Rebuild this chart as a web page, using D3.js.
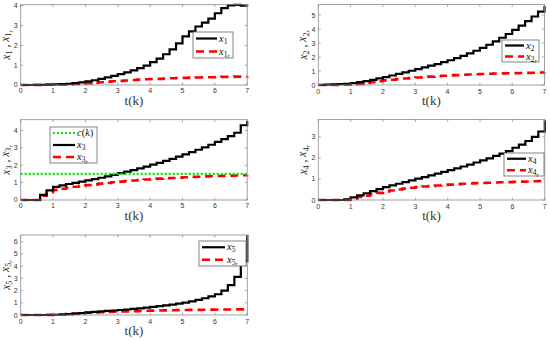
<!DOCTYPE html>
<html><head><meta charset="utf-8">
<script src="https://cdn.jsdelivr.net/npm/d3@7"></script>
<style>body{margin:0;background:#fff}svg{display:block}</style>
</head><body>
<svg id="c" width="550" height="341"></svg>
<script>
const t = d3.range(36).map(i => +(i * 0.2).toFixed(1));
const xTicks = [0,1,2,3,4,5,6,7];

const x1  = [0,0,0.01,0.01,0.02,0.03,0.04,0.06,0.09,0.13,0.18,0.24,0.31,0.38,0.46,0.55,0.64,0.74,0.85,0.98,1.15,1.33,1.55,1.8,2.1,2.45,2.7,2.95,3.15,3.35,3.62,3.88,4.02,4.04,4.0,3.97];
const x1r = [0,0,0,0,0.01,0.01,0.02,0.03,0.05,0.07,0.09,0.12,0.14,0.17,0.19,0.21,0.23,0.25,0.27,0.29,0.3,0.31,0.33,0.34,0.35,0.36,0.37,0.38,0.39,0.39,0.4,0.41,0.41,0.42,0.42,0.43];
const x2  = [0,0.02,0.04,0.06,0.09,0.14,0.2,0.28,0.37,0.47,0.57,0.68,0.79,0.9,1.02,1.14,1.26,1.38,1.5,1.63,1.77,1.92,2.08,2.26,2.45,2.66,2.88,3.12,3.38,3.65,3.95,4.25,4.57,4.9,5.25,5.65];
const x2r = [0,0,0,0.01,0.02,0.04,0.08,0.14,0.2,0.27,0.33,0.38,0.42,0.46,0.5,0.54,0.57,0.6,0.63,0.66,0.69,0.71,0.73,0.75,0.77,0.79,0.8,0.82,0.83,0.84,0.85,0.86,0.87,0.88,0.89,0.9];
const x3  = [0,0,0,0.3,0.55,0.75,0.84,0.92,0.99,1.06,1.13,1.2,1.28,1.36,1.45,1.55,1.63,1.72,1.82,1.92,2.03,2.14,2.25,2.37,2.49,2.62,2.75,2.89,3.03,3.18,3.34,3.5,3.68,3.87,4.3,4.55];
const x3r = [0,0,0,0.25,0.45,0.58,0.65,0.71,0.76,0.81,0.86,0.9,0.94,0.98,1.02,1.06,1.09,1.12,1.15,1.18,1.21,1.23,1.25,1.27,1.29,1.31,1.33,1.34,1.36,1.37,1.38,1.39,1.4,1.41,1.42,1.43];
const c3  = t.map(() => 1.5);
const x4  = [0,0,0,0,0.03,0.12,0.22,0.32,0.42,0.52,0.61,0.69,0.77,0.85,0.93,1.01,1.09,1.17,1.25,1.33,1.42,1.5,1.59,1.68,1.78,1.88,1.98,2.09,2.2,2.32,2.48,2.63,2.8,3.0,3.25,3.78];
const x4r = [0,0,0,0,0,0.06,0.14,0.21,0.28,0.34,0.4,0.45,0.5,0.54,0.58,0.61,0.64,0.66,0.69,0.71,0.73,0.75,0.77,0.78,0.8,0.81,0.82,0.83,0.84,0.85,0.86,0.87,0.88,0.89,0.9,0.91];
const x5  = [0,0,0,0,0.01,0.02,0.04,0.07,0.11,0.16,0.21,0.25,0.29,0.33,0.37,0.41,0.45,0.5,0.55,0.6,0.66,0.72,0.78,0.85,0.93,1.02,1.12,1.24,1.37,1.52,1.7,2.0,2.45,3.12,4.4,6.55];
const x5r = [0,0,0,0,0,0.02,0.04,0.07,0.11,0.15,0.19,0.21,0.23,0.25,0.27,0.29,0.3,0.32,0.33,0.35,0.36,0.37,0.38,0.39,0.4,0.41,0.42,0.42,0.43,0.44,0.44,0.45,0.45,0.46,0.46,0.47];

const yTicks1 = [0,1,2,3,4];
const yTicks2 = [0,1,2,3,4,5];
const yTicks3 = [0,1,2,3,4];
const yTicks4 = [0,1,2,3];
const yTicks5 = [0,1,2,3,4,5,6];

const svg = d3.select("#c");
const mathFont = "'Liberation Serif', 'DejaVu Serif', serif";

const STY = {
  black: {stroke:"#000", width:2.2, dash:null},
  red:   {stroke:"#ff0000", width:2.6, dash:"8,5"},
  green: {stroke:"#00e600", width:2.2, dash:"2,2"}
};

function mathLabel(sel, idx, r) {
  sel.append("tspan").attr("font-style","italic").text("x");
  sel.append("tspan").attr("font-size","0.72em").attr("dy", "0.28em").text(idx);
  if (r) {
    sel.append("tspan").attr("font-style","italic").attr("font-size","0.55em").attr("dy","0.25em").text("r");
  }
}

function panel(p) {
  const g = svg.append("g").attr("transform", `translate(${p.left},${p.top})`);
  const W = p.w, H = p.h;
  const xs = d3.scaleLinear().domain([0,7]).range([0,W]);
  const ys = d3.scaleLinear().domain([0,p.ymax]).range([H,0]);

  g.append("rect").attr("width",W).attr("height",H).attr("fill","#fff");

  const clip = "clip" + p.id;
  g.append("clipPath").attr("id",clip).append("rect").attr("x",-2).attr("y",-2).attr("width",W+4).attr("height",H+4);

  const line = d3.line().x((d,i)=>xs(t[i])).y(d=>ys(d)).curve(d3.curveStepAfter);
  const lineC = d3.line().x((d,i)=>xs(t[i])).y(d=>ys(d));
  const plotG = g.append("g").attr("clip-path",`url(#${clip})`);
  p.series.forEach(s => {
    const st = STY[s.style];
    plotG.append("path").datum(s.data)
      .attr("d", s.style==="green" ? lineC : line)
      .attr("fill","none").attr("stroke",st.stroke).attr("stroke-width",st.width)
      .attr("stroke-dasharray",st.dash).attr("stroke-linejoin","miter");
  });

  const axCol = "#8a8a8a";
  const tl = 2.5;
  const ax = g.append("g");
  ax.append("rect").attr("width",W).attr("height",H).attr("fill","none").attr("stroke",axCol).attr("stroke-width",0.8);
  xTicks.forEach(v => {
    ax.append("line").attr("x1",xs(v)).attr("x2",xs(v)).attr("y1",H).attr("y2",H-tl).attr("stroke",axCol).attr("stroke-width",0.7);
    ax.append("line").attr("x1",xs(v)).attr("x2",xs(v)).attr("y1",0).attr("y2",tl).attr("stroke",axCol).attr("stroke-width",0.7);
    ax.append("text").attr("x",xs(v)).attr("y",H+8.5).attr("text-anchor","middle")
      .attr("font-family","'Liberation Sans', Arial, sans-serif").attr("font-size",7).attr("fill","#333").text(v);
  });
  p.yTicks.forEach(v => {
    ax.append("line").attr("x1",0).attr("x2",tl).attr("y1",ys(v)).attr("y2",ys(v)).attr("stroke",axCol).attr("stroke-width",0.7);
    ax.append("line").attr("x1",W).attr("x2",W-tl).attr("y1",ys(v)).attr("y2",ys(v)).attr("stroke",axCol).attr("stroke-width",0.7);
    ax.append("text").attr("x",-3).attr("y",ys(v)+2.5).attr("text-anchor","end")
      .attr("font-family","'Liberation Sans', Arial, sans-serif").attr("font-size",7).attr("fill","#333").text(v);
  });

  g.append("text").attr("x",W/2).attr("y",H+20).attr("text-anchor","middle")
    .attr("font-family",mathFont).attr("font-size",13).attr("fill","#333").text("t(k)");

  const yl = g.append("text").attr("transform",`translate(${-11.2},${H/2}) rotate(-90)`)
    .attr("text-anchor","middle").attr("font-family",mathFont).attr("font-size",11.5).attr("fill","#222");
  mathLabel(yl, p.idx, false);
  yl.append("tspan").attr("dy","-0.28em").text(" , ");
  mathLabel(yl, p.idx, true);

  const L = p.legend;
  const lg = svg.append("g").attr("transform",`translate(${L.x},${L.y})`);
  lg.append("rect").attr("width",L.w).attr("height",L.h).attr("fill","#fff").attr("stroke","#666").attr("stroke-width",0.8);
  const rowH = L.h / L.items.length;
  L.items.forEach((it,i) => {
    const st = STY[it.style];
    const cy = rowH*(i+0.5);
    lg.append("line").attr("x1",3).attr("x2",L.lineEnd).attr("y1",cy).attr("y2",cy)
      .attr("stroke",st.stroke).attr("stroke-width",st.width).attr("stroke-dasharray",st.dash);
    const tx = lg.append("text").attr("x",L.lineEnd+2).attr("y",cy+3)
      .attr("font-family",mathFont).attr("font-size",10.5).attr("fill","#111");
    if (it.kind === "c") {
      tx.append("tspan").attr("font-style","italic").text("c");
      tx.append("tspan").text("(");
      tx.append("tspan").attr("font-style","italic").text("k");
      tx.append("tspan").text(")");
    } else {
      mathLabel(tx, p.idx, it.kind === "r");
    }
  });
}

panel({id:1, idx:"1", left:20.7, top:4.7, w:226.5, h:80.3, ymax:4.05, yTicks:yTicks1,
  series:[{data:x1r,style:"red"},{data:x1,style:"black"}],
  legend:{x:193,y:32,w:40,h:26,lineEnd:24,items:[{style:"black",kind:"x"},{style:"red",kind:"r"}]}});
panel({id:2, idx:"2", left:318.3, top:4.5, w:226.2, h:80.5, ymax:5.76, yTicks:yTicks2,
  series:[{data:x2r,style:"red"},{data:x2,style:"black"}],
  legend:{x:502,y:40,w:37,h:22,lineEnd:22,items:[{style:"black",kind:"x"},{style:"red",kind:"r"}]}});
panel({id:3, idx:"3", left:20.7, top:119.7, w:226.5, h:80.3, ymax:4.62, yTicks:yTicks3,
  series:[{data:x3r,style:"red"},{data:x3,style:"black"},{data:c3,style:"green"}],
  legend:{x:50,y:127,w:47,h:36,lineEnd:25,items:[{style:"green",kind:"c"},{style:"black",kind:"x"},{style:"red",kind:"r"}]}});
panel({id:4, idx:"4", left:318.3, top:119.5, w:226.5, h:80.5, ymax:3.82, yTicks:yTicks4,
  series:[{data:x4r,style:"red"},{data:x4,style:"black"}],
  legend:{x:504,y:153,w:40,h:23,lineEnd:22,items:[{style:"black",kind:"x"},{style:"red",kind:"r"}]}});
panel({id:5, idx:"5", left:20.7, top:235, w:226.6, h:80, ymax:6.55, yTicks:yTicks5,
  series:[{data:x5r,style:"red"},{data:x5,style:"black"}],
  legend:{x:199,y:241,w:47,h:25,lineEnd:26,items:[{style:"black",kind:"x"},{style:"red",kind:"r"}]}});
</script>
</body></html>
